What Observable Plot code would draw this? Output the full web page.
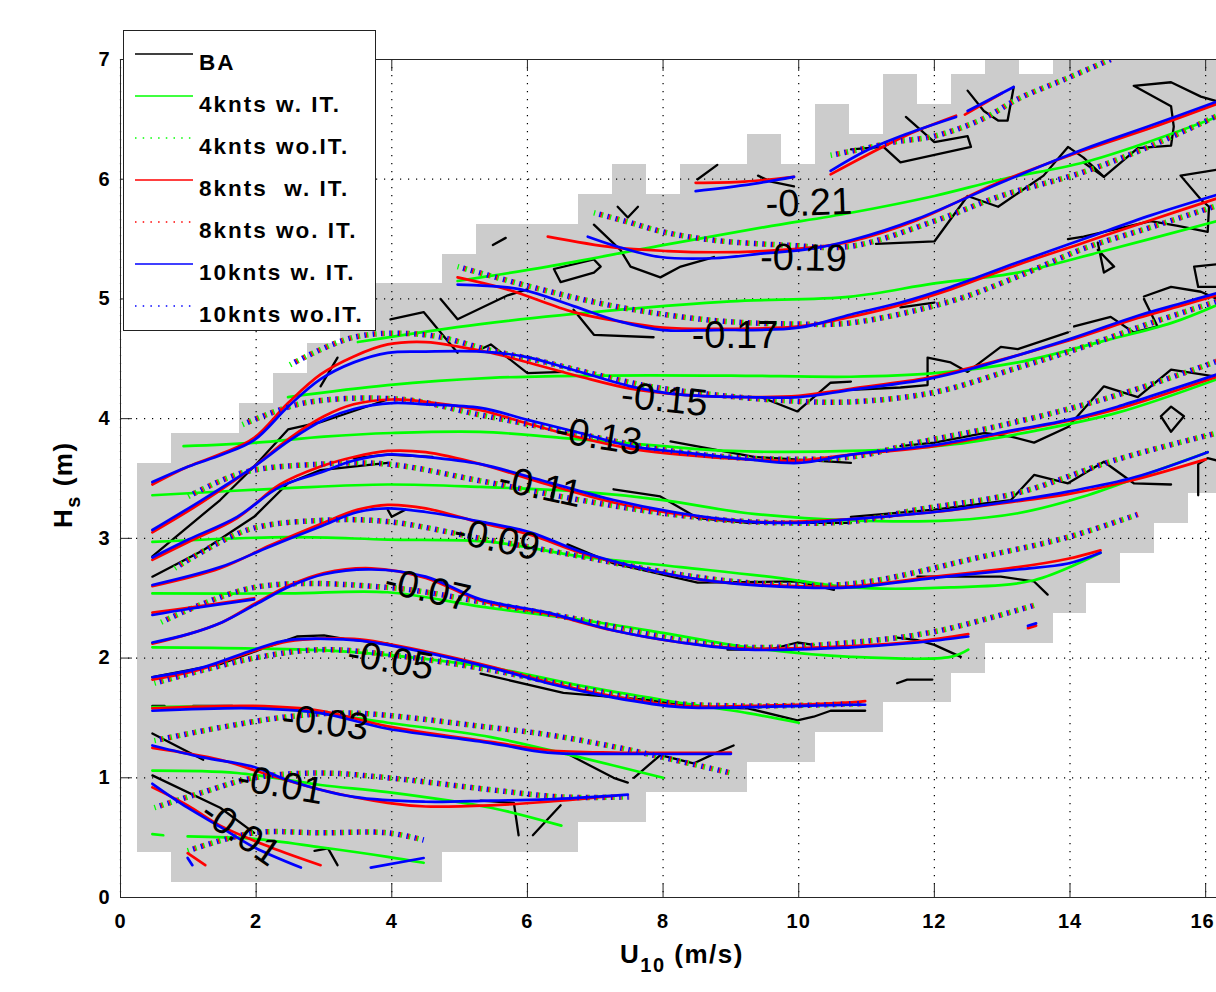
<!DOCTYPE html>
<html><head><meta charset="utf-8">
<script src="https://cdn.jsdelivr.net/npm/d3@7"></script>
<script src="https://cdn.jsdelivr.net/npm/@observablehq/plot@0.6"></script>
<style>
html,body{margin:0;padding:0;background:#fff;}
#wrap{position:relative;width:1216px;height:992px;overflow:hidden;}
#wrap svg{display:block;}
g[aria-label^="x-axis"] text, g[aria-label^="y-axis"] text{letter-spacing:1px;}
</style></head>
<body><div id="wrap"></div>
<script>
// ---------- axes ----------
const xTicks = [0,2,4,6,8,10,12,14,16];
const yTicks = [0,1,2,3,4,5,6,7];

// ---------- valid-data cells (grey): column centre U, Hs lower / upper edge ----------
const cellU  = [0.5,1,1.5,2,2.5,3,3.5,4,4.5,5,5.5,6,6.5,7,7.5,8,8.5,9,9.5,10,10.5,11,11.5,12,12.5,13,13.5,14,14.5,15,15.5,16];
const cellLo = [0.375,0.125,0.125,0.125,0.125,0.125,0.125,0.125,0.125,0.375,0.375,0.375,0.375,0.625,0.625,0.875,0.875,0.875,1.125,1.125,1.375,1.375,1.625,1.625,1.875,2.125,2.125,2.375,2.625,2.875,3.125,3.375];
const cellHi = [3.625,3.875,3.875,4.125,4.375,4.625,4.875,5.125,5.125,5.375,5.625,5.625,5.625,5.875,6.125,5.875,6.125,6.125,6.375,6.125,6.625,6.375,6.875,6.625,6.875,7.125,6.875,7.125,7.125,7.125,7.125,7.125];

// ---------- series ----------
const seriesNames  = ["BA","4knts w. IT.","4knts wo.IT.","8knts  w. IT.","8knts wo. IT.","10knts w. IT.","10knts wo.IT."];
const seriesColors = ["#000000","#00ff00","#00ff00","#ff0000","#ff0000","#0000ff","#0000ff"];
const seriesDotted = [false,false,true,false,true,false,true];

// contour polylines [U10, Hs]
const BA = [
 [[16.17,6.65],[15.93,6.69],[15.49,6.81],[14.94,6.78],[15.49,6.61],[15.53,6.44],[15.49,6.28],[15.0,6.26],[14.5,6.02],[14.2,6.14]],
 [[12.49,6.74],[12.73,6.57],[12.94,6.49],[13.08,6.49],[13.17,6.77]],
 [[11.58,6.52],[12.0,6.31],[12.49,6.36],[12.54,6.27],[11.5,6.14],[11.25,6.27],[10.77,6.25]],
 [[11.14,5.46],[12.0,5.48],[12.49,5.86],[12.94,5.77],[13.61,6.03],[13.97,6.27],[14.2,6.18],[14.5,6.02]],
 [[16.17,6.08],[15.63,6.03],[15.93,5.83],[16.05,5.77],[16.03,5.56],[15.59,5.61],[15.19,5.65],[14.2,5.52],[13.97,5.5]],
 [[14.41,5.47],[14.5,5.22],[14.65,5.27],[14.41,5.41]],
 [[16.17,5.29],[15.83,5.27],[15.89,5.1],[16.17,5.1]],
 [[15.09,5.02],[15.49,5.1],[15.93,5.06],[16.17,5.0]],
 [[14.06,4.77],[14.6,4.85],[14.94,4.72],[15.29,4.77],[15.09,5.0]],
 [[11.5,4.93],[12.0,4.97]],
 [[10.77,4.24],[11.5,4.26],[11.9,4.28],[11.9,4.51],[12.24,4.47],[12.49,4.39],[12.98,4.6],[13.23,4.58],[13.97,4.72]],
 [[11.5,3.77],[12.0,3.80],[12.73,3.88],[13.13,3.85],[13.47,3.80],[13.97,3.93],[14.5,4.27],[15.0,4.18],[15.49,4.41],[16.17,4.35]],
 [[15.34,4.02],[15.49,4.10],[15.68,4.02],[15.49,3.89],[15.34,4.02]],
 [[10.77,3.18],[12.0,3.24],[13.13,3.32],[13.47,3.53],[13.97,3.46],[14.5,3.64],[14.94,3.46],[15.49,3.45]],
 [[15.89,3.36],[15.89,3.62],[16.03,3.67],[16.17,3.65]],
 [[11.75,2.68],[12.98,2.68],[13.47,2.64],[13.67,2.53]],
 [[11.45,2.17],[11.75,2.15],[12.0,2.11],[12.39,2.01]],
 [[11.45,1.79],[11.6,1.82],[11.97,1.82]],
 [[8.95,2.07],[9.25,2.07],[9.63,2.08],[9.98,2.13],[10.22,2.11]],
 [[5.31,1.87],[6.53,1.71],[7.77,1.65],[8.51,1.59],[9.25,1.58],[9.98,1.48],[10.22,1.51],[10.47,1.56],[10.98,1.56]],
 [[6.59,1.2],[7.27,1.0],[7.48,0.96]],
 [[7.57,1.0],[7.96,1.19],[8.45,1.12],[8.75,1.2],[9.04,1.27]],
 [[5.31,0.81],[5.8,0.79],[5.87,0.52]],
 [[6.08,0.52],[6.49,0.77]],
 [[6.68,4.91],[6.98,4.70],[7.86,4.68]],
 [[5.31,4.58],[5.46,4.62],[6.0,4.38],[6.53,4.39]],
 [[9.44,4.18],[9.98,4.06],[10.47,4.30],[10.77,4.31]],
 [[8.11,3.81],[9.34,3.68],[10.77,3.63]],
 [[7.27,3.41],[7.96,3.35],[8.51,3.17],[9.25,3.13],[10.77,3.13]],
 [[6.59,2.95],[7.27,2.79],[8.51,2.63],[9.98,2.64],[10.52,2.57]],
 [[6.98,5.62],[7.37,5.41],[7.52,5.27],[7.96,5.18],[8.26,5.27],[8.75,5.35]],
 [[6.39,5.25],[6.98,5.33],[7.08,5.27],[6.98,5.22],[6.49,5.14],[6.39,5.25]],
 [[7.33,5.77],[7.48,5.68],[7.63,5.77]],
 [[5.49,5.45],[5.68,5.51]],
 [[8.51,6.0],[8.8,6.12]],
 [[9.4,6.03],[9.59,5.98],[9.93,5.94]],
 [[4.72,5.0],[4.97,4.83],[5.71,5.03],[6.0,5.08]],
 [[3.98,4.83],[4.47,4.89],[4.72,4.72],[4.97,4.55]],
 [[0.47,2.68],[1.22,2.9],[1.97,3.18],[2.47,3.46],[2.95,3.57],[3.94,3.63]],
 [[0.47,2.85],[1.47,3.32],[1.97,3.60],[2.47,3.91],[2.95,3.97],[3.94,4.16]],
 [[2.95,4.27],[3.2,4.51]],
 [[3.44,3.67],[3.94,3.70],[4.6,3.68]],
 [[3.94,3.24],[4.0,3.18],[4.2,3.24]],
 [[0.47,1.37],[1.22,1.15]],
 [[0.47,1.02],[1.47,0.75],[1.97,0.54]],
 [[0.47,1.84],[1.47,1.95],[2.2,2.1],[2.6,2.18],[3.0,2.19],[3.3,2.16],[3.94,2.12]],
 [[0.47,1.6],[0.65,1.6]],
 [[1.07,1.6],[1.65,1.6]],
 [[2.86,0.39],[3.06,0.41],[3.2,0.27]]
];

const fourW = [
 [[4.97,5.15],[6.3,5.27],[8.0,5.45],[9.5,5.6],[10.77,5.72],[12.0,5.86],[13.0,6.0],[14.2,6.14],[15.2,6.32],[16.17,6.52]],
 [[3.5,4.64],[5.31,4.79],[7.37,4.91],[9.0,4.98],[10.77,5.02],[12.0,5.13],[13.23,5.22],[14.5,5.4],[16.17,5.65]],
 [[2.47,4.18],[3.94,4.28],[5.46,4.34],[7.0,4.36],[9.0,4.36],[10.77,4.35],[12.0,4.38],[13.23,4.47],[14.5,4.65],[15.5,4.8],[16.17,4.95]],
 [[0.93,3.77],[2.0,3.8],[3.0,3.85],[4.0,3.88],[5.3,3.89],[6.5,3.84],[8.0,3.77],[9.0,3.73],[10.77,3.73],[12.2,3.78],[13.5,3.9],[14.7,4.05],[16.17,4.33]],
 [[0.47,3.36],[2.47,3.42],[3.94,3.45],[5.31,3.43],[6.78,3.39],[8.0,3.32],[9.25,3.21],[10.77,3.15],[12.24,3.15],[13.23,3.21],[14.2,3.35],[15.2,3.55],[16.03,3.72]],
 [[0.47,2.97],[2.47,3.01],[3.94,2.99],[5.46,2.97],[6.78,2.85],[8.26,2.76],[9.7,2.67],[10.77,2.59],[12.24,2.59],[13.47,2.65],[14.45,2.88]],
 [[0.47,2.54],[2.47,2.54],[3.94,2.55],[5.31,2.43],[6.78,2.32],[8.0,2.21],[9.25,2.09],[10.77,2.01],[12.24,2.01],[12.5,2.07]],
 [[0.47,2.09],[1.97,2.08],[3.44,2.05],[5.46,1.92],[6.78,1.77],[8.0,1.65],[9.25,1.54],[10.0,1.46]],
 [[0.47,1.59],[1.97,1.59],[2.95,1.54],[3.94,1.46],[5.46,1.34],[6.78,1.17],[8.0,1.0]],
 [[0.47,1.06],[1.72,1.04],[2.95,0.94],[3.94,0.88],[5.46,0.75],[6.5,0.6]],
 [[0.47,0.53],[0.63,0.52]],
 [[0.99,0.51],[1.97,0.49],[2.95,0.42],[3.94,0.34],[4.47,0.29]]
];

const eightW = [
 [[8.48,5.97],[9.2,5.98],[9.93,6.02]],
 [[10.47,6.04],[11.0,6.2],[11.6,6.37],[12.32,6.53]],
 [[12.45,6.54],[13.0,6.72]],
 [[6.3,5.52],[7.27,5.43],[8.07,5.40],[8.75,5.39],[9.48,5.40],[10.2,5.43],[10.77,5.48],[11.75,5.66],[12.98,5.98],[14.2,6.24],[15.2,6.43],[16.17,6.63]],
 [[4.97,5.18],[5.7,5.08],[6.68,4.89],[7.37,4.81],[8.0,4.76],[8.75,4.75],[10.0,4.77],[10.77,4.85],[11.5,4.95],[12.24,5.08],[13.2,5.28],[14.2,5.47],[15.2,5.66],[16.17,5.84]],
 [[0.47,3.45],[1.0,3.6],[1.5,3.71],[1.97,3.84],[2.47,4.13],[2.95,4.37],[3.44,4.52],[3.94,4.62],[4.5,4.64],[5.0,4.6],[5.46,4.55],[5.94,4.48],[6.78,4.35],[7.52,4.25],[8.26,4.2],[9.25,4.18],[10.0,4.19],[10.77,4.25],[11.9,4.34],[12.5,4.42],[13.97,4.65],[15.0,4.84],[15.68,4.95],[16.17,5.03]],
 [[0.47,3.05],[1.2,3.3],[1.97,3.6],[2.5,3.84],[3.0,4.02],[3.44,4.12],[4.0,4.16],[4.5,4.14],[5.31,4.07],[6.0,3.96],[6.78,3.84],[7.52,3.75],[8.26,3.70],[9.25,3.66],[10.0,3.65],[10.77,3.70],[12.0,3.77],[13.23,3.9],[13.97,3.98],[14.7,4.08],[16.17,4.35]],
 [[0.47,2.82],[1.0,2.97],[1.72,3.17],[2.35,3.45],[2.95,3.6],[3.44,3.68],[3.94,3.73],[4.5,3.72],[5.31,3.62],[6.3,3.45],[7.27,3.30],[8.26,3.20],[9.25,3.14],[10.0,3.14],[10.77,3.16],[12.0,3.22],[13.23,3.31],[13.97,3.37],[14.95,3.49],[16.0,3.66]],
 [[0.47,2.6],[1.47,2.75],[2.2,2.94],[2.95,3.12],[3.5,3.24],[3.94,3.28],[4.5,3.25],[5.31,3.13],[6.04,3.03],[6.78,2.88],[7.76,2.74],[8.75,2.64],[10.0,2.60],[10.77,2.60],[12.0,2.68],[13.23,2.76],[13.97,2.83],[14.45,2.90]],
 [[0.47,2.38],[1.0,2.42],[1.97,2.5]],
 [[0.47,2.12],[1.0,2.2],[1.5,2.3],[2.0,2.46],[2.5,2.61],[3.0,2.71],[3.7,2.75],[4.5,2.67],[5.31,2.48],[6.3,2.37],[7.27,2.23],[8.26,2.13],[9.25,2.08],[10.77,2.1],[11.75,2.14],[12.5,2.2]],
 [[13.38,2.25],[13.5,2.27]],
 [[0.47,1.82],[1.2,1.91],[1.97,2.06],[2.47,2.14],[3.44,2.16],[3.94,2.12],[5.46,1.93],[6.3,1.80],[7.27,1.68],[8.26,1.60],[9.25,1.60],[10.77,1.63],[10.98,1.64]],
 [[0.47,1.58],[1.97,1.60],[2.95,1.56],[3.94,1.43],[5.46,1.30],[6.3,1.23],[7.27,1.21],[9.0,1.21]],
 [[0.47,1.25],[1.47,1.15],[2.21,1.02],[2.95,0.90],[3.94,0.79],[4.5,0.76],[5.46,0.77],[6.3,0.80],[7.3,0.85]],
 [[0.47,0.92],[0.99,0.77],[1.47,0.60],[2.21,0.42],[2.95,0.27]],
 [[0.99,0.37],[1.25,0.27]]
];

const tenW = [
 [[8.48,5.90],[9.2,5.95],[9.93,6.02]],
 [[10.47,6.07],[11.0,6.24],[11.6,6.38],[12.32,6.52]],
 [[12.49,6.57],[13.17,6.77]],
 [[6.89,5.52],[7.37,5.43],[7.96,5.35],[8.75,5.34],[9.48,5.38],[10.2,5.42],[10.77,5.49],[11.75,5.67],[12.98,5.97],[14.2,6.25],[15.2,6.45],[16.17,6.65]],
 [[4.97,5.12],[5.9,5.08],[6.68,4.94],[7.37,4.81],[8.0,4.74],[8.75,4.74],[10.0,4.76],[10.77,4.87],[11.5,4.97],[12.24,5.10],[13.2,5.3],[14.2,5.50],[15.2,5.70],[16.17,5.87]],
 [[0.47,3.47],[1.0,3.6],[1.5,3.7],[1.97,3.82],[2.47,4.1],[2.95,4.33],[3.44,4.47],[3.94,4.55],[4.5,4.56],[5.31,4.56],[5.94,4.52],[6.78,4.39],[7.52,4.27],[8.26,4.20],[9.25,4.18],[10.0,4.18],[10.77,4.24],[11.9,4.33],[12.5,4.41],[13.97,4.66],[15.0,4.86],[15.68,4.97],[16.17,5.05]],
 [[0.47,3.07],[1.2,3.32],[1.97,3.60],[2.5,3.82],[3.0,3.99],[3.44,4.08],[4.0,4.13],[4.5,4.12],[5.31,4.09],[6.0,3.99],[6.78,3.88],[7.52,3.77],[8.26,3.72],[9.25,3.66],[10.0,3.63],[10.77,3.70],[12.0,3.78],[13.23,3.91],[13.97,3.99],[14.7,4.10],[16.17,4.37]],
 [[0.47,2.84],[1.0,2.99],[1.72,3.18],[2.35,3.43],[2.95,3.55],[3.44,3.65],[3.94,3.70],[4.5,3.68],[5.31,3.62],[6.3,3.47],[7.27,3.32],[8.26,3.21],[9.25,3.14],[10.0,3.13],[10.77,3.16],[12.0,3.22],[13.23,3.32],[13.97,3.39],[14.95,3.51],[16.03,3.72]],
 [[0.47,2.61],[1.47,2.76],[2.2,2.93],[2.95,3.10],[3.5,3.22],[3.94,3.25],[4.5,3.22],[5.31,3.14],[6.04,3.05],[6.78,2.89],[7.76,2.74],[8.75,2.64],[10.0,2.59],[10.77,2.59],[12.0,2.67],[13.23,2.74],[13.97,2.79],[14.45,2.88]],
 [[0.47,2.36],[1.0,2.41],[1.97,2.49]],
 [[0.47,2.13],[1.0,2.2],[1.5,2.3],[2.0,2.45],[2.5,2.6],[3.0,2.7],[3.7,2.74],[4.5,2.68],[5.31,2.49],[6.3,2.38],[7.27,2.23],[8.26,2.13],[9.25,2.07],[10.77,2.09],[11.75,2.13],[12.5,2.18]],
 [[13.38,2.27],[13.5,2.29]],
 [[0.47,1.84],[1.2,1.92],[1.97,2.07],[2.47,2.15],[3.44,2.15],[3.94,2.11],[5.46,1.92],[6.3,1.79],[7.27,1.67],[8.26,1.59],[9.25,1.59],[10.77,1.61],[10.98,1.61]],
 [[0.47,1.56],[1.97,1.58],[2.95,1.54],[3.94,1.41],[5.46,1.29],[6.3,1.21],[7.27,1.20],[9.0,1.20]],
 [[0.47,1.27],[1.22,1.17],[1.97,1.09],[2.47,0.98],[3.44,0.84],[4.5,0.80],[5.46,0.81],[6.3,0.82],[7.48,0.86]],
 [[0.47,0.95],[0.99,0.75],[1.47,0.59],[1.97,0.42],[2.66,0.25]],
 [[0.99,0.33],[1.06,0.27]],
 [[3.69,0.25],[4.47,0.33]]
];

// the three "wo. IT." runs coincide to within a pixel, so one traced set serves 4, 8 and 10 knots
const woIT = [
 [[10.47,6.2],[11.0,6.26],[11.4,6.31],[12.0,6.36],[12.7,6.5],[13.23,6.67],[13.9,6.83],[14.6,7.0]],
 [[6.98,5.72],[7.5,5.64],[8.0,5.56],[8.75,5.49],[9.8,5.45],[10.77,5.44],[12.0,5.65],[12.98,5.86],[14.2,6.06],[15.2,6.28],[16.17,6.53]],
 [[4.97,5.27],[6.2,5.08],[7.37,4.93],[8.75,4.82],[10.0,4.79],[10.77,4.8],[12.24,4.98],[13.2,5.18],[14.2,5.42],[15.2,5.6],[16.17,5.78]],
 [[2.5,4.45],[3.44,4.68],[4.5,4.70],[5.46,4.57],[6.2,4.48],[7.0,4.37],[7.8,4.27],[8.75,4.20],[9.8,4.15],[10.77,4.14],[12.0,4.22],[13.2,4.42],[14.2,4.6],[15.2,4.8],[16.17,4.98]],
 [[1.8,3.95],[2.7,4.13],[4.17,4.16],[5.31,4.03],[6.78,3.87],[8.0,3.74],[9.25,3.67],[10.77,3.68],[11.75,3.80],[12.8,3.92],[13.97,4.08],[15.0,4.25],[16.17,4.48]],
 [[1.0,3.35],[1.81,3.55],[2.95,3.62],[3.94,3.62],[5.31,3.48],[6.78,3.32],[8.0,3.21],[9.25,3.14],[10.77,3.14],[11.75,3.24],[13.23,3.38],[14.7,3.66],[16.17,3.88]],
 [[0.8,2.75],[1.87,3.07],[2.95,3.15],[3.94,3.14],[5.31,3.0],[6.78,2.85],[8.0,2.72],[9.25,2.63],[10.77,2.62],[12.73,2.85],[13.97,3.01],[15.0,3.2]],
 [[0.6,2.3],[1.97,2.59],[3.94,2.59],[5.31,2.47],[6.78,2.32],[8.26,2.15],[9.25,2.09],[10.77,2.13],[12.0,2.22],[13.47,2.44]],
 [[0.5,1.79],[1.97,2.0],[2.95,2.07],[3.94,2.03],[5.46,1.90],[6.78,1.75],[8.0,1.63],[9.25,1.60],[10.98,1.62]],
 [[0.5,1.31],[1.47,1.42],[2.47,1.51],[3.44,1.54],[5.46,1.42],[6.3,1.36],[7.27,1.26],[8.0,1.17],[9.0,1.04]],
 [[0.5,0.75],[1.22,0.88],[1.97,1.0],[2.95,1.04],[3.94,1.0],[5.46,0.9],[6.5,0.84],[7.5,0.84]],
 [[0.99,0.39],[1.97,0.54],[2.95,0.54],[3.94,0.54],[4.47,0.48]]
];

// contour labels
const clabelText = ["-0.21","-0.19","-0.17","-0.15","-0.13","-0.11","-0.09","-0.07","-0.05","-0.03","-0.01","-0.01"];
const clabelU    = [10.15,10.07,9.06,8.02,7.05,6.19,5.55,4.53,3.98,3.02,2.36,1.77];
const clabelHs   = [5.80,5.34,4.69,4.16,3.85,3.43,2.99,2.57,1.98,1.46,0.94,0.54];
const clabelRot  = [-2,1,0,6,9,12,12,13,10,7,10,35];

// ---------- build tables ----------
const W = 1216, H = 992;
const cells = cellU.map((u,i) => ({u, lo: cellLo[i], hi: cellHi[i]}));
function toRows(lines, key){
  const out = [];
  lines.forEach((pl, i) => pl.forEach(([u,h]) => out.push({id: key + i, u, h})));
  return out;
}
const rowsBA = toRows(BA,"ba"), rows4 = toRows(fourW,"g"), rows8 = toRows(eightW,"r"), rows10 = toRows(tenW,"b"), rowsWo = toRows(woIT,"d");
const labels = clabelText.map((t,i) => ({t, u: clabelU[i], h: clabelHs[i], r: clabelRot[i]}));

const innerH = 897 - 59, innerW = W - 120;
const dot = {strokeWidth: 5.5, strokeDasharray: "1.4,6.9", strokeLinecap: "butt", strokeLinejoin: "miter", curve: "catmull-rom", clip: true};
const solid = {strokeWidth: 2.7, curve: "catmull-rom", clip: true};

const chart = Plot.plot({
  width: W, height: H,
  marginLeft: 120, marginRight: 0, marginTop: 59, marginBottom: H - 897,
  style: {fontFamily: "'Liberation Sans', Arial, sans-serif", fontSize: "20px", fontWeight: "bold", background: "transparent", color: "#000"},
  x: {domain: [0, 16.16], ticks: xTicks, tickSize: 0, tickPadding: 16, label: null, tickFormat: d => String(d)},
  y: {domain: [0, 7], ticks: yTicks, tickSize: 0, tickPadding: 10, label: null, tickFormat: d => String(d)},
  marks: [
    Plot.rect(cells, {x1: d => d.u - 0.25, x2: d => d.u + 0.25, y1: "lo", y2: "hi", fill: "#cccccc", shapeRendering: "crispEdges", clip: true}),
    Plot.ruleX(xTicks, {x: d => d, stroke: "#000", strokeWidth: 1.2, strokeDasharray: "1.2,6.8"}),
    Plot.ruleY(yTicks, {y: d => d, stroke: "#000", strokeWidth: 1.2, strokeDasharray: "1.2,6.8"}),
    Plot.line(rowsBA, {x: "u", y: "h", z: "id", stroke: seriesColors[0], strokeWidth: 2.3, curve: "linear", clip: true}),
    Plot.line(rows4,  {x: "u", y: "h", z: "id", stroke: seriesColors[1], ...solid}),
    Plot.line(rowsWo, {x: "u", y: "h", z: "id", stroke: seriesColors[2], ...dot, strokeDashoffset: 0}),
    Plot.line(rows8,  {x: "u", y: "h", z: "id", stroke: seriesColors[3], ...solid}),
    Plot.line(rowsWo, {x: "u", y: "h", z: "id", stroke: seriesColors[4], ...dot, strokeDashoffset: 1.3}),
    Plot.line(rows10, {x: "u", y: "h", z: "id", stroke: seriesColors[5], ...solid}),
    Plot.line(rowsWo, {x: "u", y: "h", z: "id", stroke: seriesColors[6], ...dot, strokeDashoffset: 2.6}),
    Plot.text(labels, {x: "u", y: "h", text: "t", rotate: "r", fontSize: 38, fontWeight: "normal", fill: "#000"}),
    Plot.ruleX([0], {stroke: "#262626"}),
    Plot.ruleY([0, 7], {stroke: "#262626"}),
    Plot.ruleX(xTicks, {x: d => d, stroke: "#262626", insetTop: innerH - 13}),
    Plot.ruleX(xTicks, {x: d => d, stroke: "#262626", insetBottom: innerH - 12}),
    Plot.ruleY(yTicks, {y: d => d, stroke: "#262626", insetRight: innerW - 12})
  ]
});

const wrap = document.getElementById("wrap");
wrap.appendChild(chart);

// keep the last x tick label ("16", cut by the figure edge in the original) inside the picture
d3.select(chart).selectAll('g[aria-label^="x-axis"] text')
  .filter(function(){ return this.textContent === String(xTicks[xTicks.length - 1]); })
  .attr("text-anchor", "end").attr("dx", 9);

// ---------- overlay: legend and axis titles ----------
const ov = d3.select(wrap).append("svg")
  .attr("width", W).attr("height", H)
  .style("position", "absolute").style("left", 0).style("top", 0)
  .attr("font-family", "'Liberation Sans', Arial, sans-serif");

const lg = ov.append("g");
lg.append("rect").attr("x", 123.5).attr("y", 30.5).attr("width", 252).attr("height", 300)
  .attr("fill", "#fff").attr("stroke", "#222").attr("stroke-width", 1);
seriesNames.forEach((name, i) => {
  const y = 54 + i * 42;
  lg.append("line").attr("x1", 135).attr("x2", 193).attr("y1", y).attr("y2", y)
    .attr("stroke", seriesColors[i]).attr("stroke-width", 1.5)
    .attr("stroke-dasharray", seriesDotted[i] ? "1.5,6.2" : null);
  lg.append("text").attr("x", 199).attr("y", y + 15.5)
    .attr("font-size", 22.5).attr("font-weight", "bold").attr("letter-spacing", "2px")
    .attr("fill", "#000").style("white-space", "pre")
    .text(name);
});

const xt = ov.append("text").attr("x", 620).attr("y", 963)
  .attr("font-size", 26).attr("font-weight", "bold").attr("letter-spacing", "1.5px").attr("fill", "#000");
xt.append("tspan").text("U");
xt.append("tspan").attr("dy", 9).attr("font-size", 20).text("10");
xt.append("tspan").attr("dy", -9).style("white-space", "pre").text(" (m/s)");

const yt = ov.append("text").attr("transform", "translate(72,528) rotate(-90)")
  .attr("font-size", 26).attr("font-weight", "bold").attr("letter-spacing", "1.5px").attr("fill", "#000");
yt.append("tspan").text("H");
yt.append("tspan").attr("dy", 8).attr("font-size", 20).text("s");
yt.append("tspan").attr("dy", -8).style("white-space", "pre").text(" (m)");
</script>
</body></html>
